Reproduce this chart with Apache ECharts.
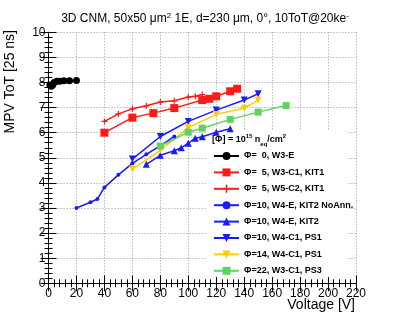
<!DOCTYPE html>
<html><head><meta charset="utf-8">
<script src="https://cdn.jsdelivr.net/npm/echarts@6/dist/echarts.min.js"></script>
<style>html,body{margin:0;padding:0;background:#fff}#c{width:409px;height:316px}</style>
</head><body><div id="c"></div>
<script>
const xTicks = [0,20,40,60,80,100,120,140,160,180,200,220];
const yTicks = [0,1,2,3,4,5,6,7,8,9,10];
const names = ['Φ=  0, W3-E','Φ=  5, W3-C1, KIT1','Φ=  5, W5-C2, KIT1','Φ=10, W4-E, KIT2 NoAnn.','Φ=10, W4-E, KIT2','Φ=10, W4-C1, PS1','Φ=14, W4-C1, PS1','Φ=22, W3-C1, PS3'];
const s0 = [[1,7.9],[2,7.85],[3,7.9],[4,8.0],[6,8.05],[8,8.05],[11,8.07],[15,8.07],[20,8.08]];
const s1 = [[40,6.0],[60,6.6],[75,6.78],[90,6.98],[110,7.3],[115,7.35],[120,7.45],[130,7.65],[135,7.75]];
const s2 = [[40,6.45],[50,6.75],[60,6.95],[70,7.07],[80,7.22],[90,7.27],[100,7.42],[105,7.45],[110,7.52]];
const s3 = [[20,3.0],[30,3.23],[35,3.36],[40,3.82],[50,4.32],[60,4.78],[70,5.14],[80,5.48],[90,5.85]];
const s4 = [[70,4.74],[80,5.1],[90,5.28],[95,5.4],[100,5.58],[105,5.78],[110,5.84],[120,6.02],[130,6.16]];
const s5 = [[60,4.95],[80,5.85],[100,6.45],[120,6.9],[140,7.3],[150,7.55]];
const s6 = [[60,4.55],[80,5.3],[100,6.2],[120,6.73],[140,6.97],[150,7.3]];
const s7 = [[80,5.47],[100,6.02],[110,6.18],[130,6.53],[150,6.82],[170,7.08]];

const FONT = '"Liberation Sans", Arial, Helvetica, sans-serif';
const RED='#ff1a1a', BLUE='#1a1aff', YEL='#ffcc00', GRN='#5fd35f';
const plus = 'path://M2,0H3V2H5V3H3V5H2V3H0V2H2Z';
function mk(name, data, color, symbol, size, rot){
  return {name, type:'line', data, xAxisIndex:0, yAxisIndex:0, symbol, symbolSize:size, symbolRotate:rot||0,
    showSymbol:true, lineStyle:{color, width:1.5}, itemStyle:{color}, z:3, animation:false};
}
const series = [
  mk(names[0], s0, '#000', 'circle', 7),
  mk(names[1], s1, RED, 'rect', 8),
  mk(names[2], s2, RED, plus, 6),
  mk(names[3], s3, BLUE, 'circle', 4),
  mk(names[4], s4, BLUE, 'triangle', 7),
  mk(names[5], s5, BLUE, 'triangle', 7, 180),
  mk(names[6], s6, YEL, 'triangle', 7, 180),
  mk(names[7], s7, GRN, 'rect', 7)
];
function ax(extra){
  return Object.assign({type:'value', axisLine:{show:true, lineStyle:{color:'#000', width:1}},
    axisTick:{show:true, inside:true, length:8, lineStyle:{color:'#000'}},
    minorTick:{show:true, splitNumber:5, length:4, lineStyle:{color:'#000'}},
    axisLabel:{show:false}, splitLine:{show:false}}, extra);
}
const chart = echarts.init(document.getElementById('c'), null, {renderer:'canvas'});
chart.setOption({
  animation:false,
  backgroundColor:'#fff',
  textStyle:{fontFamily:FONT},
  title:[{
    text:'3D CNM, 50x50 μm{sup|2} 1E, d=230 μm, 0°, 10ToT@20ke{sup|-}',
    left:200, top:7, textAlign:'center',
    textStyle:{fontFamily:FONT, fontSize:12, fontWeight:'normal', color:'#000', lineHeight:14,
      rich:{sup:{fontSize:8, verticalAlign:'top', lineHeight:14, fontFamily:FONT}}}
  }],
  grid:{left:48.5, right:53, top:32.3, bottom:32.7, containLabel:false, outerBoundsMode:'none'},
  xAxis:[
    ax({position:'bottom', min:0, max:220, interval:20,
      axisLabel:{show:true, fontSize:12, color:'#000', margin:4, fontFamily:FONT},
      splitLine:{show:true, lineStyle:{color:'#999', type:[1,2], width:1}}}),
    ax({position:'top', min:0, max:220, interval:20})
  ],
  yAxis:[
    ax({position:'left', min:0, max:10, interval:1,
      axisLabel:{show:true, fontSize:12, color:'#000', margin:3, fontFamily:FONT},
      splitLine:{show:true, lineStyle:{color:'#999', type:[1,2], width:1}}}),
    ax({position:'right', min:0, max:10, interval:1})
  ],
  legend:{
    orient:'vertical', left:213, top:151, padding:0,
    itemWidth:25, itemHeight:10, itemGap:6.4, itemTextGap:5,
    data:names,
    textStyle:{fontFamily:FONT, fontSize:9, fontWeight:'bold', color:'#000', lineHeight:10},
    selectedMode:false
  },
  graphic:[
    {type:'rect', z:1, shape:{x:207, y:131, width:140, height:146}, style:{fill:'#fff'}, silent:true},
    {type:'text', z:5, x:212, y:140, style:{
      text:'[Φ] = 10{sup|15} n{sub|eq}/cm{sup|2}', fontFamily:FONT, fontSize:9, fontWeight:'bold', fill:'#000',
      verticalAlign:'middle', lineHeight:14,
      rich:{sup:{fontSize:6, fontWeight:'bold', verticalAlign:'top', lineHeight:14, fontFamily:FONT},
            sub:{fontSize:6, fontWeight:'bold', verticalAlign:'bottom', lineHeight:14, fontFamily:FONT}}}},
    {type:'text', z:5, x:10, y:30, rotation:Math.PI/2, style:{
      text:'MPV ToT [25 ns]', fontFamily:FONT, fontSize:14, fill:'#000', align:'right', verticalAlign:'middle'}},
    {type:'text', z:5, x:355, y:305, style:{
      text:'Voltage [V]', fontFamily:FONT, fontSize:14, fill:'#000', align:'right', verticalAlign:'middle'}}
  ],
  series
});
</script></body></html>
